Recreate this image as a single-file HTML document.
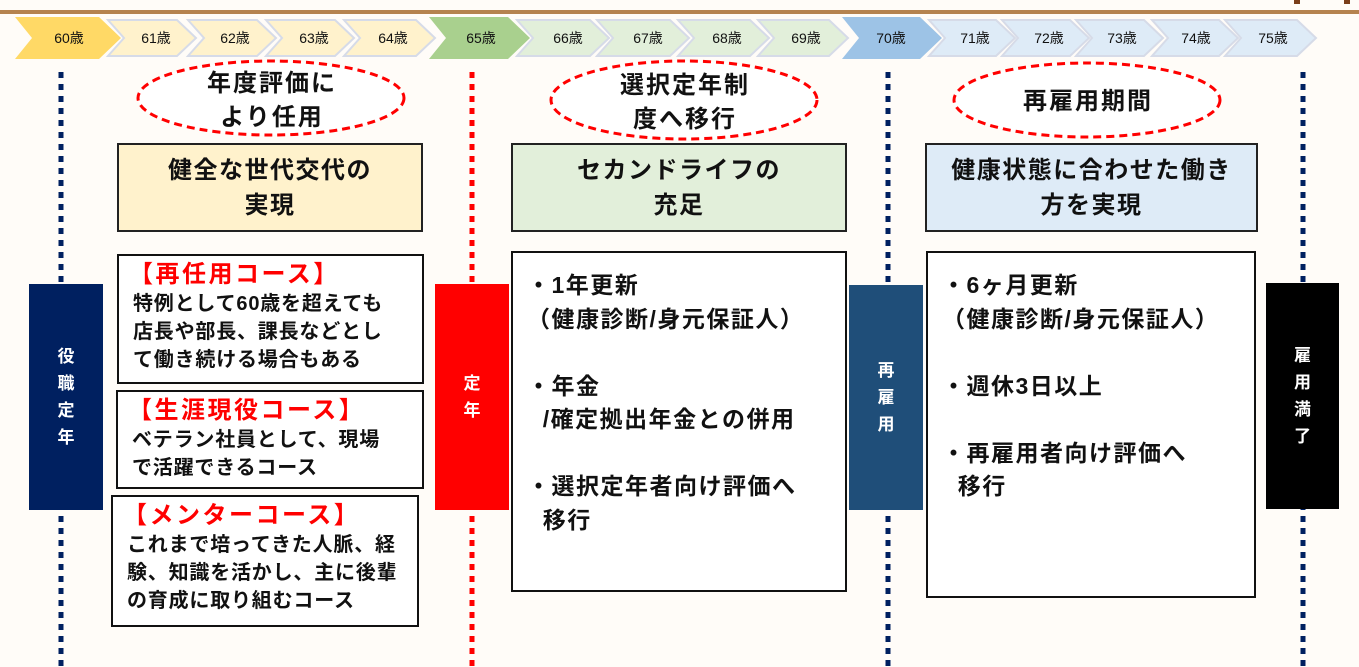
<!DOCTYPE html>
<html><head><meta charset="utf-8"><style>
html,body{margin:0;padding:0;}
body{width:1359px;height:667px;position:relative;overflow:hidden;background:#fffcf8;font-family:"Liberation Sans","Noto Sans CJK JP",sans-serif;color:#111;}
.a{position:absolute;box-sizing:border-box;}
.hd{border:2px solid #222;font-weight:bold;font-size:24px;letter-spacing:1.5px;line-height:35px;text-align:center;display:flex;align-items:center;justify-content:center;}
.bx{border:2px solid #111;background:#fff;font-weight:bold;}
.cs{font-size:20px;letter-spacing:0.8px;line-height:28px;padding:4px 0 0 14px;white-space:nowrap;}
.cs .t{color:#f00;font-size:24px;letter-spacing:2.5px;line-height:30px;margin-left:-4px;}
.vb{color:#fff;font-weight:bold;font-size:17px;line-height:27px;display:flex;align-items:center;justify-content:center;text-align:center;}
.mb{font-size:23px;letter-spacing:1.5px;line-height:33.5px;padding:16px 0 0 14px;white-space:nowrap;}
</style></head><body>
<svg class="a" style="left:0;top:0" width="1359" height="667">
<rect x="0" y="10" width="1359" height="4" fill="#b5834f"/>
<rect x="1294" y="0" width="6" height="4" fill="#7a3e1a"/>
<rect x="1344" y="0" width="6" height="4" fill="#7a3e1a"/>
<g font-family="Liberation Sans, Noto Sans CJK JP, sans-serif" font-size="14" text-anchor="middle" fill="#111">
<g stroke="#d6dbe8" stroke-width="2">
<polygon fill="#fff2cc" points="108,20 177,20 196,38 177,56 108,56 124,38"/>
<polygon fill="#fff2cc" points="188,20 257,20 276,38 257,56 188,56 204,38"/>
<polygon fill="#fff2cc" points="266,20 335,20 354,38 335,56 266,56 282,38"/>
<polygon fill="#fff2cc" points="344,20 416,20 435,38 416,56 344,56 360,38"/>
<polygon fill="#e2efda" points="517,20 590,20 609,38 590,56 517,56 533,38"/>
<polygon fill="#e2efda" points="597,20 670,20 689,38 670,56 597,56 613,38"/>
<polygon fill="#e2efda" points="678,20 750,20 769,38 750,56 678,56 694,38"/>
<polygon fill="#e2efda" points="758,20 829,20 848,38 829,56 758,56 774,38"/>
<polygon fill="#deebf7" points="929,20 996,20 1015,38 996,56 929,56 945,38"/>
<polygon fill="#deebf7" points="1002,20 1070,20 1089,38 1070,56 1002,56 1018,38"/>
<polygon fill="#deebf7" points="1076,20 1144,20 1163,38 1144,56 1076,56 1092,38"/>
<polygon fill="#deebf7" points="1152,20 1219,20 1238,38 1219,56 1152,56 1168,38"/>
<polygon fill="#deebf7" points="1225,20 1297,20 1316,38 1297,56 1225,56 1241,38"/>
</g>
<polygon fill="#ffd966" points="15,17 99,17 121,38 99,59 15,59 32,38"/>
<polygon fill="#a9d08e" points="429,17 508,17 530,38 508,59 429,59 446,38"/>
<polygon fill="#9dc3e6" points="842,17 920,17 942,38 920,59 842,59 859,38"/>
<text x="69" y="43">60歳</text><text x="156" y="43">61歳</text><text x="235" y="43">62歳</text><text x="314" y="43">63歳</text><text x="393" y="43">64歳</text>
<text x="481" y="43">65歳</text><text x="568" y="43">66歳</text><text x="648" y="43">67歳</text><text x="727" y="43">68歳</text><text x="806" y="43">69歳</text>
<text x="891" y="43">70歳</text><text x="975" y="43">71歳</text><text x="1049" y="43">72歳</text><text x="1122" y="43">73歳</text><text x="1196" y="43">74歳</text><text x="1273" y="43">75歳</text>
</g>
<g stroke-width="5" stroke-dasharray="6 6">
<line x1="61" y1="72" x2="61" y2="667" stroke="#002060"/>
<line x1="472" y1="72" x2="472" y2="667" stroke="#f00"/>
<line x1="888" y1="72" x2="888" y2="667" stroke="#002060"/>
<line x1="1303" y1="72" x2="1303" y2="667" stroke="#002060"/>
</g>
<g fill="#fff" stroke="#f00" stroke-width="3" stroke-dasharray="8 5">
<ellipse cx="271" cy="98" rx="133" ry="37"/>
<ellipse cx="684" cy="100" rx="133" ry="39"/>
<ellipse cx="1087" cy="100" rx="133" ry="37"/>
</g>
<g font-family="Liberation Sans, Noto Sans CJK JP, sans-serif" font-size="24" font-weight="bold" text-anchor="middle" fill="#111" letter-spacing="2">
<text x="272" y="91">年度評価に</text><text x="272" y="125">より任用</text>
<text x="685" y="93">選択定年制</text><text x="685" y="127">度へ移行</text>
<text x="1088" y="109">再雇用期間</text>
</g>
</svg>
<div class="a hd" style="left:117px;top:143px;width:306px;height:89px;background:#fff2cc">健全な世代交代の<br>実現</div>
<div class="a hd" style="left:511px;top:143px;width:336px;height:89px;background:#e2efda">セカンドライフの<br>充足</div>
<div class="a hd" style="left:925px;top:143px;width:333px;height:89px;background:#deebf7">健康状態に合わせた働き<br>方を実現</div>
<div class="a vb" style="left:29px;top:284px;width:74px;height:226px;background:#002060">役<br>職<br>定<br>年</div>
<div class="a vb" style="left:435px;top:284px;width:74px;height:226px;background:#f00">定<br>年</div>
<div class="a vb" style="left:849px;top:285px;width:74px;height:225px;background:#1f4e79">再<br>雇<br>用</div>
<div class="a vb" style="left:1266px;top:283px;width:73px;height:226px;background:#000">雇<br>用<br>満<br>了</div>
<div class="a bx cs" style="left:117px;top:254px;width:307px;height:130px"><div class="t">【再任用コース】</div>特例として60歳を超えても<br>店長や部長、課長などとし<br>て働き続ける場合もある</div>
<div class="a bx cs" style="left:116px;top:390px;width:308px;height:99px"><div class="t">【生涯現役コース】</div>ベテラン社員として、現場<br>で活躍できるコース</div>
<div class="a bx cs" style="left:111px;top:495px;width:308px;height:132px"><div class="t">【メンターコース】</div>これまで培ってきた人脈、経<br>験、知識を活かし、主に後輩<br>の育成に取り組むコース</div>
<div class="a bx mb" style="left:511px;top:251px;width:336px;height:341px">・1年更新<br>（健康診断/身元保証人）<br><br>・年金<br>&nbsp;&nbsp;/確定拠出年金との併用<br><br>・選択定年者向け評価へ<br>&nbsp;&nbsp;移行</div>
<div class="a bx mb" style="left:926px;top:251px;width:330px;height:347px">・6ヶ月更新<br>（健康診断/身元保証人）<br><br>・週休3日以上<br><br>・再雇用者向け評価へ<br>&nbsp;&nbsp;移行</div>
</body></html>
